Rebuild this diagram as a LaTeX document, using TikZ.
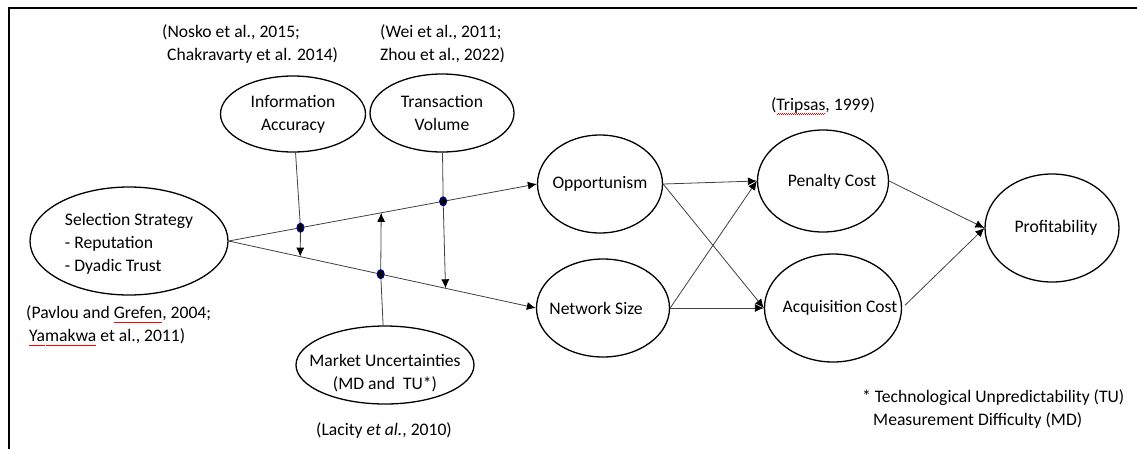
\documentclass[tikz,border=0pt]{standalone}
\usepackage{fontspec}
\setmainfont{Carlito}
\usetikzlibrary{calc,positioning,shapes.geometric,arrows.meta}

\newsavebox\squigbox
\newcommand\squig[1]{\sbox\squigbox{#1}\rlap{\raisebox{-4pt}{\color{red}\hbox to\wd\squigbox{\xleaders\hbox to 2pt{\rule{1pt}{.6pt}\raisebox{.7pt}{\rule{1pt}{.6pt}}}\hfil}}}\usebox\squigbox}

\begin{document}
\begin{tikzpicture}[x=1pt,y=-1pt,font=\fontsize{17.6}{23}\selectfont,
  var/.style={ellipse,draw,line width=1.3pt,inner sep=0pt},
  txt/.style={align=center,inner sep=0pt},
  dot/.style={ellipse,fill=black,draw=blue!60!black,line width=1pt,minimum width=7pt,minimum height=9pt,inner sep=0pt},
  link/.style={-{Latex[length=9pt,width=8pt,black]},black!75,line width=.8pt},
  cite/.style={align=left,inner sep=0pt}]
  \useasboundingbox (0,0) rectangle (1137,448);
  \draw[line width=1.8pt] (9,470) -- (9,8) -- (1160,8);

  \node[var,minimum width=198pt,minimum height=108pt,label={[txt,align=left,yshift=-3pt]center:Selection Strategy\\- Reputation\\- Dyadic Trust}] (ss) at (129,241) {};
  \node[var,minimum width=145pt,minimum height=76pt,label={[txt]center:Information\\Accuracy}] (ia) at (293,114) {};
  \node[var,minimum width=144pt,minimum height=78pt,label={[txt]center:Transaction\\Volume}] (tv) at (442,113) {};
  \node[var,minimum width=178pt,minimum height=78pt,label={[txt,yshift=-8pt]center:Market Uncertainties\\(MD and\ \ TU*)}] (mu) at (385,365) {};
  \node[var,minimum width=125pt,minimum height=98pt,label={[txt]center:Opportunism}] (op) at (600,184) {};
  \node[var,minimum width=133pt,minimum height=98pt,label={[txt,xshift=-7pt]center:Network Size}] (ns) at (603,308) {};
  \node[var,minimum width=131pt,minimum height=102pt,label={[txt,xshift=9pt,yshift=-1pt]center:Penalty Cost}] (pc) at (823,181) {};
  \node[var,minimum width=137pt,minimum height=108pt,label={[txt,xshift=7pt]center:Acquisition Cost}] (ac) at (833,308) {};
  \node[var,minimum width=134pt,minimum height=108pt,label={[txt,xshift=4pt]center:Profitability}] (pr) at (1052,228) {};

  \node[cite,anchor=west] (c1) at (162,44) {(Nosko et al., 2015;\\\hspace{5pt}Chakravarty et al. 2014)};
  \node[cite,anchor=west] (c2) at (380,44) {(Wei et al., 2011;\\Zhou et al., 2022)};
  \node[cite] (c3) at (823,106) {(\squig{Tripsas}, 1999)};
  \node[cite,anchor=west] (c4) at (26,326) {(Pavlou and \squig{Grefen}, 2004;\\\hspace{3pt}\squig{Yamakwa}\ et al., 2011)};
  \node[cite] (c5) at (384,430) {(Lacity \textit{et al.}, 2010)};
  \node[cite,anchor=west] (c6) at (862,409) {* Technological Unpredictability (TU)\\\hspace{11pt}Measurement Difficulty (MD)};

  \coordinate (p1) at ($(ss.east)!.233!(op.west)$);
  \coordinate (p2) at ($(ss.east)!.696!(op.west)$);
  \coordinate (p3) at ($(ss.east)!.495!(ns.west)$);
  \coordinate (e1) at ($(ss.east)!.233!(ns.west)$);
  \coordinate (e2) at ($(ss.east)!.706!(ns.west)$);
  \coordinate (e3) at ($(ss.east)!.495!(op.west)$);

  \draw[link] (ss.east) -- (op.west);
  \draw[link] (ss.east) -- (ns.west);
  \draw[link] (ia) -- (p1) -- (e1);
  \draw[link] (tv) -- (p2) -- (e2);
  \draw[link] (mu) -- (p3) -- (e3);
  \draw[link] (op.east) -- (pc.west);
  \draw[link] (op.east) -- (ac.west);
  \draw[link] (ns.east) -- (pc.west);
  \draw[link] (ns.east) -- (ac.west);
  \draw[link] (pc.east) -- (pr.west);
  \draw[link,shorten <=4pt] (ac.east) -- (pr.west);

  \node[dot] (d1) at (p1) {};
  \node[dot] (d2) at (p2) {};
  \node[dot] (d3) at (p3) {};
\end{tikzpicture}
\end{document}
